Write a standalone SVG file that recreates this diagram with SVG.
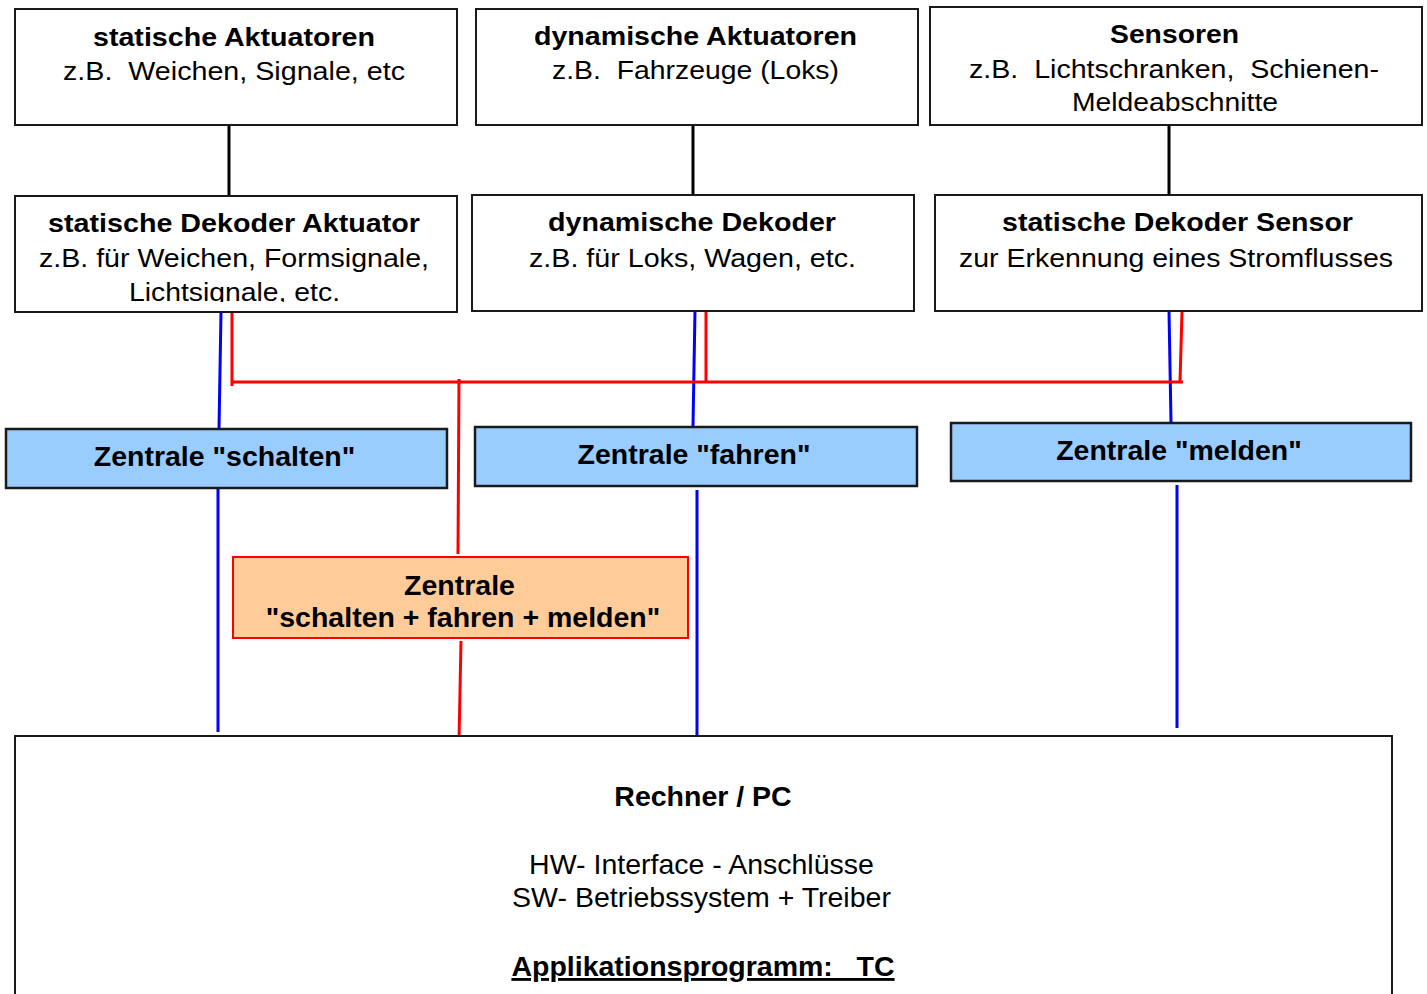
<svg xmlns="http://www.w3.org/2000/svg" width="1427" height="994" viewBox="0 0 1427 994">
<style>
text{font-family:"Liberation Sans",Arial,sans-serif;fill:#000;text-anchor:middle}
.box{fill:#fff;stroke:#1a1a1a;stroke-width:2}
.blue{fill:#99ccff;stroke:#1a1a1a;stroke-width:2.5}
.orange{fill:#ffcc99;stroke:#ff0000;stroke-width:2}
.t{font-size:25px}
.b{font-weight:bold}
.m{font-size:28.5px}
.k{stroke:#000;stroke-width:3;fill:none}
.bl{stroke:#0000ff;stroke-width:3;fill:none}
.rd{stroke:#ff0000;stroke-width:3;fill:none}
</style>
<defs>
<clipPath id="clip4"><rect x="15" y="196" width="442" height="106"/></clipPath>
</defs>
<rect width="1427" height="994" fill="#fff"/>

<g id="connectors">
<line class="k" x1="229" y1="125" x2="229" y2="196"/>
<line class="k" x1="693" y1="125" x2="693" y2="195"/>
<line class="k" x1="1169" y1="125" x2="1169" y2="195"/>
<line class="bl" x1="221" y1="312" x2="219" y2="429"/>
<line class="bl" x1="218" y1="488" x2="218" y2="732"/>
<line class="bl" x1="695" y1="310" x2="693" y2="426"/>
<line class="bl" x1="697" y1="490" x2="697" y2="735"/>
<line class="bl" x1="1169" y1="311" x2="1171" y2="422"/>
<line class="bl" x1="1177" y1="485" x2="1177" y2="728"/>
<line class="rd" x1="232" y1="310" x2="232" y2="386"/>
<line class="rd" x1="706" y1="311" x2="706" y2="382"/>
<line class="rd" x1="1182" y1="312" x2="1180" y2="382"/>
<line class="rd" x1="232" y1="382" x2="1183" y2="382"/>
<line class="rd" x1="459" y1="379" x2="458" y2="554"/>
<line class="rd" x1="461" y1="641" x2="459" y2="741"/>
</g>

<g id="statische-aktuatoren">
<rect class="box" x="15" y="9" width="442" height="116"/>
<text class="t b" x="234" y="46" textLength="282" lengthAdjust="spacingAndGlyphs">statische Aktuatoren</text>
<text class="t" x="234" y="80" textLength="342" lengthAdjust="spacingAndGlyphs" style="white-space:pre">z.B.  Weichen, Signale, etc</text>
</g>

<g id="dynamische-aktuatoren">
<rect class="box" x="476" y="9" width="442" height="116"/>
<text class="t b" x="695.5" y="45" textLength="323" lengthAdjust="spacingAndGlyphs">dynamische Aktuatoren</text>
<text class="t" x="695.5" y="79" textLength="287" lengthAdjust="spacingAndGlyphs" style="white-space:pre">z.B.  Fahrzeuge (Loks)</text>
</g>

<g id="sensoren">
<rect class="box" x="930" y="7" width="492" height="118"/>
<text class="t b" x="1174.5" y="43" textLength="129" lengthAdjust="spacingAndGlyphs">Sensoren</text>
<text class="t" x="1174" y="78" textLength="410" lengthAdjust="spacingAndGlyphs" style="white-space:pre">z.B.  Lichtschranken,  Schienen-</text>
<text class="t" x="1175" y="111" textLength="206" lengthAdjust="spacingAndGlyphs">Meldeabschnitte</text>
</g>

<g id="dekoder-aktuator">
<rect class="box" x="15" y="196" width="442" height="116"/>
<text class="t b" x="234" y="232" textLength="372" lengthAdjust="spacingAndGlyphs">statische Dekoder Aktuator</text>
<text class="t" x="234" y="267" textLength="390" lengthAdjust="spacingAndGlyphs">z.B. für Weichen, Formsignale,</text>
<text class="t" x="234.5" y="301" textLength="211" lengthAdjust="spacingAndGlyphs" clip-path="url(#clip4)">Lichtsignale, etc.</text>
</g>

<g id="dynamische-dekoder">
<rect class="box" x="472" y="195" width="442" height="116"/>
<text class="t b" x="692" y="231" textLength="288" lengthAdjust="spacingAndGlyphs">dynamische Dekoder</text>
<text class="t" x="692.5" y="267" textLength="327" lengthAdjust="spacingAndGlyphs">z.B. für Loks, Wagen, etc.</text>
</g>

<g id="dekoder-sensor">
<rect class="box" x="935" y="195" width="487" height="116"/>
<text class="t b" x="1177.5" y="231" textLength="351" lengthAdjust="spacingAndGlyphs">statische Dekoder Sensor</text>
<text class="t" x="1176" y="267" textLength="434" lengthAdjust="spacingAndGlyphs">zur Erkennung eines Stromflusses</text>
</g>

<g id="zentrale-schalten">
<rect class="blue" x="6" y="429" width="441" height="59"/>
<text class="m b" x="224.5" y="466">Zentrale "schalten"</text>
</g>

<g id="zentrale-fahren">
<rect class="blue" x="475" y="427" width="442" height="59"/>
<text class="m b" x="694" y="464">Zentrale "fahren"</text>
</g>

<g id="zentrale-melden">
<rect class="blue" x="951" y="423" width="460" height="58"/>
<text class="m b" x="1179" y="460">Zentrale "melden"</text>
</g>

<g id="zentrale-kombi">
<rect class="orange" x="233" y="557" width="455" height="81"/>
<text class="m b" x="459.5" y="595">Zentrale</text>
<text class="m b" x="463" y="627">"schalten + fahren + melden"</text>
</g>

<g id="rechner">
<rect class="box" x="15" y="736" width="1377" height="270"/>
<text class="m b" x="703" y="806">Rechner / PC</text>
<text class="m" x="701.5" y="874">HW- Interface - Anschlüsse</text>
<text class="m" x="701.5" y="907">SW- Betriebssystem + Treiber</text>
<text class="m b" x="703" y="976" text-decoration="underline" style="white-space:pre">Applikationsprogramm:   TC</text>
</g>
</svg>
